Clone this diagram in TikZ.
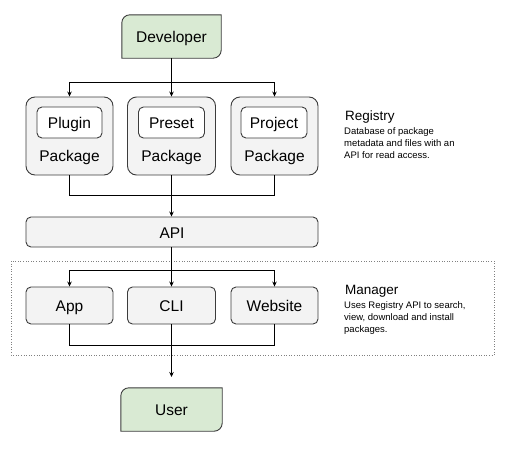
\documentclass[tikz,border=0pt]{standalone}
\usepackage{fontspec}
\setmainfont{Liberation Sans}
\usetikzlibrary{arrows.meta,calc}
\definecolor{grn}{HTML}{D9EAD3}
\definecolor{lgray}{HTML}{F3F3F3}
\definecolor{bord}{HTML}{3C3C3C}
\tikzset{
  bigfont/.style={font=\fontsize{15.5}{18}\selectfont,text height=13.5pt,text depth=1.5pt},
  box/.style={draw=bord,line width=0.9pt,fill=lgray,rounded corners=9pt,inner sep=0pt},
  smallbox/.style={draw=bord,line width=0.9pt,fill=lgray,rounded corners=5pt,inner sep=0pt,bigfont},
  inbox/.style={draw=bord,line width=0.9pt,fill=white,rounded corners=5pt,inner sep=0pt,bigfont},
  lbl/.style={inner sep=0pt,bigfont},
  actor/.style={inner sep=0pt},
  conn/.style={line width=0.8pt,black},
  arr/.style={conn,-{Stealth[length=5pt,width=4.5pt]}},
  ttl/.style={inner sep=0pt,anchor=west,font=\fontsize{13.5}{16}\selectfont},
  desc/.style={inner sep=0pt,anchor=north west,align=left,font=\fontsize{9.5}{12.3}\selectfont},
}
\newcommand{\actorshape}[1]{%
  \draw[draw=bord,line width=0.9pt,fill=grn]
    ([yshift=-8pt]#1.north west) arc[start angle=180,end angle=90,radius=8pt]
    -- (#1.north east) -- ([yshift=8pt]#1.south east)
    arc[start angle=0,end angle=-90,radius=8pt] -- (#1.south west) -- cycle;}
\begin{document}
\begin{tikzpicture}[x=1pt,y=1pt]
\useasboundingbox (0,0) rectangle (506,-450);
% actors
\node[actor,minimum width=99pt,minimum height=43pt] (dev) at (171.5,-36.5) {};
\actorshape{dev}
\node[lbl] (devt) at (dev) {Developer};
\node[actor,minimum width=101pt,minimum height=43pt] (user) at (171.5,-409.5) {};
\actorshape{user}
\node[lbl] (usert) at (user) {User};
% packages
\node[box,minimum width=87pt,minimum height=78pt] (plugin) at (69.5,-136) {};
\node[box,minimum width=88pt,minimum height=78pt] (preset) at (171.5,-136) {};
\node[box,minimum width=87pt,minimum height=78pt] (project) at (274.5,-136) {};
\node[inbox,minimum width=65pt,minimum height=31pt] (pluginin) at (69.5,-122.5) {Plugin};
\node[inbox,minimum width=66pt,minimum height=31pt] (presetin) at (171.5,-122.5) {Preset};
\node[inbox,minimum width=66pt,minimum height=31pt] (projectin) at (274,-122.5) {Project};
\node[lbl] (pluginp) at (69.5,-155) {Package};
\node[lbl] (presetp) at (171.5,-155) {Package};
\node[lbl] (projectp) at (274.5,-155) {Package};
% API
\node[smallbox,minimum width=292pt,minimum height=30pt] (api) at (172,-232) {API};
% manager frame
\draw[gray,line width=0.6pt,dotted] (11,-261) rectangle (494,-355);
\node[smallbox,minimum width=87pt,minimum height=37pt] (app) at (69.5,-305.5) {App};
\node[smallbox,minimum width=88pt,minimum height=37pt] (cli) at (171.5,-305.5) {CLI};
\node[smallbox,minimum width=87pt,minimum height=37pt] (web) at (274.5,-305.5) {Website};
% connectors
\coordinate (s1) at (171.5,-82);
\coordinate (m1) at (171.5,-195);
\coordinate (s2) at (171.5,-270);
\coordinate (m2) at (171.5,-345);
\coordinate (uend) at (171.5,-377);
\draw[conn] (dev.south) -- (s1);
\draw[arr] (s1) -| (plugin.north);
\draw[arr] (s1) -| (project.north);
\draw[arr] (s1) -- (preset.north);
\draw[conn] (plugin.south) |- (m1);
\draw[conn] (project.south) |- (m1);
\draw[conn] (preset.south) -- (m1);
\draw[arr] (m1) -- (m1 |- api.north);
\draw[conn] (api.south -| s2) -- (s2);
\draw[arr] (s2) -| (app.north);
\draw[arr] (s2) -| (web.north);
\draw[arr] (s2) -- (cli.north);
\draw[conn] (app.south) |- (m2);
\draw[conn] (web.south) |- (m2);
\draw[arr] (cli.south) -- (uend);
% labels
\node[ttl] (regt) at (345,-117) {Registry};
\node[desc] (regd) at (344,-127) {Database of package\\metadata and files with an\\API for read access.};
\node[ttl] (mant) at (345,-291) {Manager};
\node[desc] (mand) at (344,-301) {Uses Registry API to search,\\view, download and install\\packages.};
\end{tikzpicture}
\end{document}
